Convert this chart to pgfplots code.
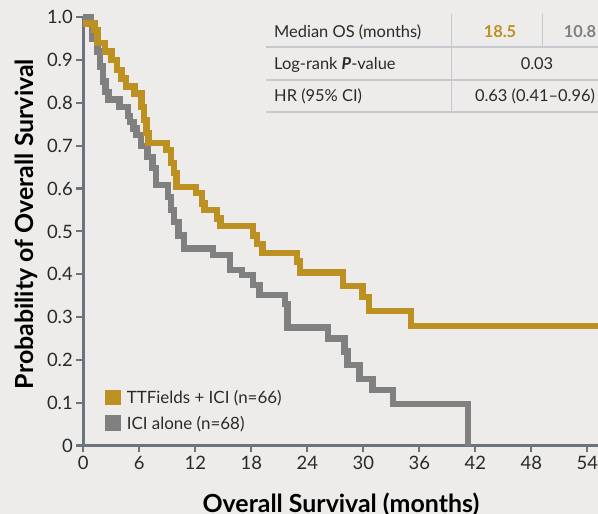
\documentclass[border=0pt]{standalone}
\usepackage{fontspec}
\setmainfont{Lato}
\usepackage{pgfplots}
\pgfplotsset{compat=1.18}
\definecolor{bg}{HTML}{EDECEA}
\definecolor{gold}{HTML}{BC9021}
\definecolor{greyc}{HTML}{808080}
\definecolor{axc}{HTML}{6C7480}
\definecolor{tline}{HTML}{C6C9CD}
\definecolor{txt}{HTML}{2A2A2A}
\begin{document}
\begin{tikzpicture}
\useasboundingbox (0,0) rectangle (598bp,514bp);
\clip (0,0) rectangle (598bp,514bp);
\fill[bg] (0,0) rectangle (598bp,514bp);
\begin{axis}[
  at={(83.3bp,68.5bp)}, anchor=south west,
  scale only axis, width=515.2bp, height=428.2bp,
  xmin=0, xmax=55.2, ymin=0, ymax=1,
  clip=false,
  axis x line*=bottom, axis y line*=left,
  axis line style={axc, line width=2.6bp, -},
  xtick={0,6,12,18,24,30,36,42,48,54},
  ytick={0,0.1,0.2,0.3,0.4,0.5,0.6,0.7,0.8,0.9,1.0},
  yticklabels={0,0.1,0.2,0.3,0.4,0.5,0.6,0.7,0.8,0.9,1.0},
  tick style={axc, line width=2.2bp},
  tick align=outside, major tick length=7bp,
  /pgf/number format/assume math mode=true,
  xticklabel style={font=\fontsize{18.5}{18.5}\selectfont, text=txt},
  yticklabel style={font=\fontsize{18.5}{18.5}\selectfont, text=txt},
  xlabel={Overall Survival (months)},
  xlabel style={font=\bfseries\fontsize{25}{25}\selectfont, text=black, at={(axis description cs:0.5,-0.1574)}, anchor=base},
  ylabel={Probability of Overall Survival},
  ylabel style={font=\bfseries\fontsize{25}{25}\selectfont, text=black, at={(axis description cs:-0.111,0.517)}, anchor=center},
  legend image code/.code={\fill[#1] (0bp,-7.8bp) rectangle (15.7bp,7.8bp);},
  legend cell align=left,
  legend style={at={(axis description cs:0.042,0.134)}, anchor=north west, draw=none, fill=none,
    font=\fontsize{17}{17}\selectfont, text=txt, inner sep=0pt, row sep=7bp,
    /tikz/every odd column/.append style={column sep=4bp}},
]
\addlegendimage{fill=gold, draw=none}
\addlegendentry{TTFields + ICI (n=66)}
\addlegendimage{fill=greyc, draw=none}
\addlegendentry{ICI alone (n=68)}
\addplot[const plot, greyc, line width=6.5bp, forget plot] coordinates {
(0,1.0) (0.8,0.985) (0.95,0.95) (1.5,0.92) (1.8,0.885) (2.1,0.85) (2.4,0.825) (2.7,0.808)
(3.9,0.79) (4.8,0.77) (5.0,0.756) (5.4,0.74) (5.7,0.725) (6.2,0.70) (6.9,0.674) (7.4,0.648)
(7.8,0.608) (9.1,0.58) (9.4,0.55) (9.7,0.522) (10.2,0.49) (10.8,0.46) (13.9,0.445)
(15.7,0.41) (17.0,0.398) (18.2,0.375) (18.9,0.351) (21.6,0.33) (21.9,0.275) (26.2,0.25)
(28.0,0.22) (28.3,0.188) (29.6,0.155) (31.0,0.13) (33.2,0.097) (41.2,0.0)
};
\addplot[const plot, gold, line width=6.5bp, forget plot] coordinates {
(0,0.985) (1.2,0.97) (1.5,0.94) (2.3,0.92) (3.0,0.90) (3.6,0.877) (4.1,0.857) (4.6,0.838)
(5.5,0.822) (6.25,0.79) (6.5,0.76) (6.75,0.73) (7.0,0.706) (8.9,0.69) (9.4,0.66) (9.7,0.636)
(10.0,0.604) (12.1,0.59) (12.7,0.565) (13.0,0.55) (14.3,0.53) (14.7,0.513) (18.2,0.49)
(18.6,0.47) (19.2,0.45) (22.9,0.43) (23.2,0.404) (27.8,0.372) (29.9,0.347) (30.6,0.314)
(35.1,0.279) (55.2,0.279)
};
\end{axis}
% summary table
\draw[tline, line width=1.3bp] (266bp,467bp) -- (598bp,467bp);
\draw[tline, line width=1.3bp] (266bp,434bp) -- (598bp,434bp);
\draw[tline, line width=1.3bp] (266bp,402bp) -- (598bp,402bp);
\draw[tline, line width=1.3bp] (451.7bp,500bp) -- (451.7bp,402bp);
\draw[tline, line width=1.3bp] (542.7bp,500bp) -- (542.7bp,467bp);
\begin{scope}[every node/.style={inner sep=0pt, font=\fontsize{16.5}{16.5}\selectfont, text=txt}]
\node[anchor=base west] at (274bp,476.7bp) {Median OS (months)};
\node[anchor=base, text=gold] at (500bp,476.7bp) {\bfseries 18.5};
\node[anchor=base, text=greyc] at (580bp,476.7bp) {\bfseries 10.8};
\node[anchor=base west] at (274bp,444bp) {Log-rank \textbf{\textit{P}}-value};
\node[anchor=base] at (537bp,444bp) {0.03};
\node[anchor=base west] at (274bp,412.3bp) {HR (95\% CI)};
\node[anchor=base] at (535bp,412.3bp) {0.63 (0.41–0.96)};
\end{scope}
\end{tikzpicture}
\end{document}
